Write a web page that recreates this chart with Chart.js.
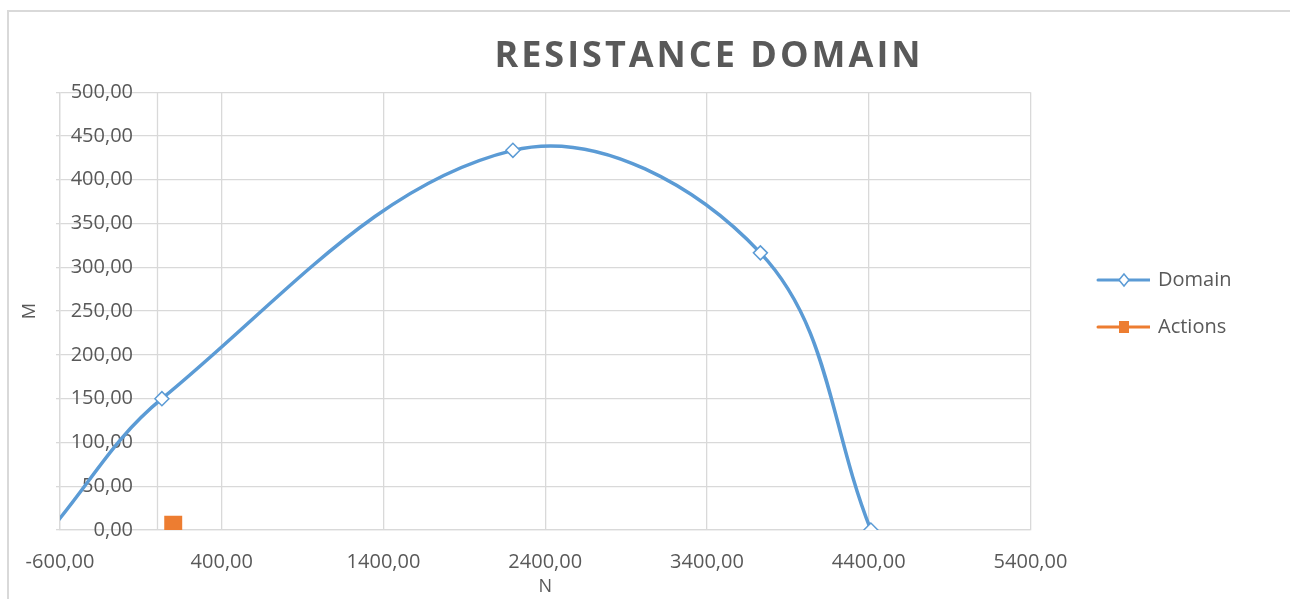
<!DOCTYPE html>
<html>
<head>
<meta charset="utf-8">
<script src="https://cdn.jsdelivr.net/npm/chart.js@4.4.1/dist/chart.umd.min.js"></script>
<style>
  html, body { margin: 0; padding: 0; background: #fff; overflow: hidden; }
  #frame { position: absolute; left: 7px; top: 10px; width: 1400px; height: 700px; border: 2px solid #d9d9d9; box-sizing: border-box; }
  #wrap { position: absolute; left: 0; top: 0; width: 1290px; height: 599px; }
</style>
</head>
<body>
<div id="frame"></div>
<div id="wrap"><canvas id="domainChart" width="1290" height="599"></canvas></div>
<script>
// Resistance domain (N, M) and the acting load
const domainN = [-660, 30, 2200, 3730, 4413];
const domainM = [0, 150, 433.6, 316.5, 0];
const actionN = [100];
const actionM = [6];

const xTickValues = [-600, 400, 1400, 2400, 3400, 4400, 5400];
const yTickValues = [0, 50, 100, 150, 200, 250, 300, 350, 400, 450, 500];
const yAxisCrossing = 0; // vertical axis sits at N = 0

const blue = '#5b9bd5';
const orange = '#ed7d31';
const textColor = '#595959';
const gridColor = '#d9d9d9';
const fontFamily = '"Open Sans", "Liberation Sans", sans-serif';

const fmt = v => Number(v).toFixed(2).replace('.', ',');

// small line+marker icons for the legend
function legendIcon(color, shape) {
  const c = document.createElement('canvas');
  c.width = 54; c.height = 16;
  const g = c.getContext('2d');
  g.strokeStyle = color;
  g.lineWidth = 3;
  g.lineCap = 'round';
  g.beginPath(); g.moveTo(2, 8); g.lineTo(54, 8); g.stroke();
  if (shape === 'diamond') {
    g.fillStyle = '#fff';
    g.lineWidth = 1.5;
    g.beginPath();
    g.moveTo(28, 2); g.lineTo(33, 8); g.lineTo(28, 14); g.lineTo(23, 8);
    g.closePath(); g.fill(); g.stroke();
  } else {
    g.fillStyle = color;
    g.fillRect(23, 2, 10, 12);
  }
  return c;
}

const icons = [legendIcon(blue, 'diamond'), legendIcon(orange, 'square')];

// vertical axis line drawn where N = 0
const crossingLine = {
  id: 'crossingLine',
  beforeDatasetsDraw(chart) {
    const { ctx, chartArea, scales } = chart;
    const x = Math.round(scales.x.getPixelForValue(yAxisCrossing)) + 0.5;
    ctx.save();
    ctx.strokeStyle = gridColor;
    ctx.lineWidth = 1.3;
    ctx.beginPath();
    ctx.moveTo(x, chartArea.top);
    ctx.lineTo(x, chartArea.bottom);
    ctx.stroke();
    ctx.restore();
  }
};

// title centred on the whole frame, spaced lettering; legend nudged right
const placement = {
  id: 'placement',
  afterLayout(chart) {
    const t = chart.titleBlock;
    t.left = 128;
    t.right = 1290;
    if (!t._spaced) {
      const draw = t.draw;
      t.draw = function () {
        const c = this.ctx;
        c.save();
        c.letterSpacing = '3px';
        draw.apply(this, arguments);
        c.restore();
      };
      t._spaced = true;
    }
    const lg = chart.legend;
    const dx = 1071 - lg.left;
    lg.left += dx;
    lg.right += dx;
    lg.top += 4;
    lg.bottom += 4;
  }
};

new Chart(document.getElementById('domainChart'), {
  type: 'scatter',
  data: {
    datasets: [
      {
        label: 'Domain',
        data: domainN.map((n, i) => ({ x: n, y: domainM[i] })),
        showLine: true,
        borderColor: blue,
        borderWidth: 3.5,
        tension: 0.37,
        pointStyle: 'rectRot',
        pointRadius: 7,
        pointBorderWidth: 1.5,
        pointBackgroundColor: '#fff',
        pointBorderColor: blue
      },
      {
        label: 'Actions',
        data: actionN.map((n, i) => ({ x: n, y: actionM[i] })),
        showLine: false,
        borderColor: orange,
        backgroundColor: orange,
        pointStyle: 'rect',
        pointRadius: 12.7,
        pointBorderWidth: 0,
        pointBackgroundColor: orange
      }
    ]
  },
  options: {
    responsive: false,
    animation: false,
    layout: { padding: { top: 0, left: 10, right: 89, bottom: 0 } },
    elements: { line: { capBezierPoints: false } },
    scales: {
      x: {
        type: 'linear',
        min: -600,
        max: 5400,
        afterBuildTicks(s) { s.ticks = xTickValues.map(v => ({ value: v })); },
        afterFit(s) { s.height = 69; },
        grid: { color: gridColor, lineWidth: 1.3, drawTicks: false },
        border: { color: gridColor, width: 1.3 },
        ticks: {
          padding: 20,
          color: textColor,
          font: { family: fontFamily, size: 20 },
          callback: v => fmt(v)
        },
        title: {
          display: true,
          text: 'N',
          color: textColor,
          font: { family: fontFamily, size: 18 },
          padding: { top: 2, bottom: 1 }
        }
      },
      y: {
        type: 'linear',
        min: 0,
        max: 500,
        afterBuildTicks(s) { s.ticks = yTickValues.map(v => ({ value: v })); },
        afterFit(s) {
          s.width = 50;
          // labels sit inside the plot, next to the N = 0 axis, so don't clip them to the axis box
          s._computeLabelArea = () => undefined;
        },
        grid: { color: gridColor, lineWidth: 1.3, drawTicks: true, tickLength: 4 },
        border: { color: gridColor, width: 1.3 },
        ticks: {
          padding: -77,
          color: textColor,
          font: { family: fontFamily, size: 20 },
          callback: v => fmt(v)
        },
        title: {
          display: true,
          text: 'M',
          color: textColor,
          font: { family: fontFamily, size: 18 },
          padding: { top: 9, bottom: 0 }
        }
      }
    },
    plugins: {
      title: {
        display: true,
        text: 'RESISTANCE DOMAIN',
        color: textColor,
        font: { family: fontFamily, size: 36, weight: 'bold' },
        padding: { top: 35, bottom: 14 }
      },
      legend: {
        position: 'right',
        align: 'center',
        labels: {
          usePointStyle: true,
          pointStyleWidth: 50,
          padding: 27,
          color: textColor,
          font: { family: fontFamily, size: 20 },
          generateLabels(chart) {
            return chart.data.datasets.map((ds, i) => ({
              text: ds.label,
              pointStyle: icons[i],
              fontColor: textColor,
              hidden: false,
              datasetIndex: i,
              lineWidth: 0,
              strokeStyle: 'transparent',
              fillStyle: 'transparent'
            }));
          }
        }
      },
      tooltip: { enabled: false }
    }
  },
  plugins: [crossingLine, placement]
});
</script>
</body>
</html>
